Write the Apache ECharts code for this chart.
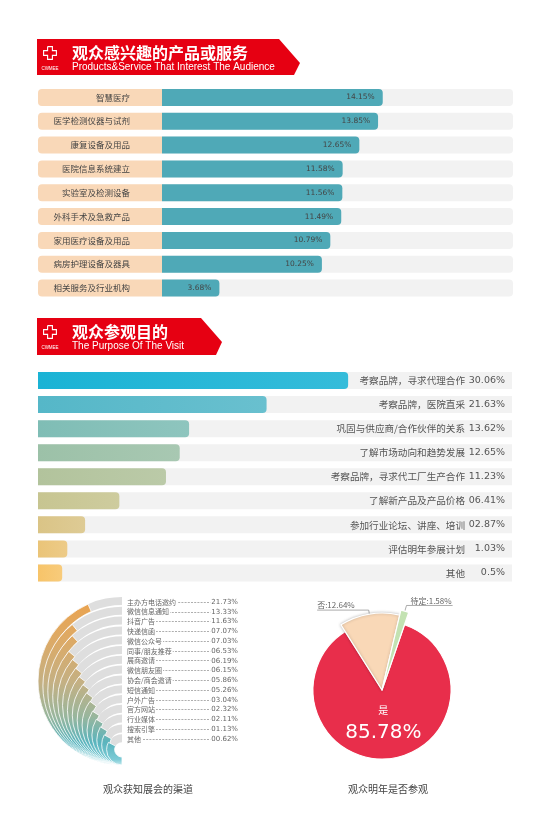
<!DOCTYPE html>
<html><head><meta charset="utf-8">
<script src="https://cdn.jsdelivr.net/npm/echarts@6/dist/echarts.min.js"></script>
<style>html,body{margin:0;padding:0;background:#fff}#c{width:551px;height:828px}</style>
</head><body><div id="c"></div>
<script>
const interestCats = ['智慧医疗','医学检测仪器与试剂','康复设备及用品','医院信息系统建立','实验室及检测设备','外科手术及急救产品','家用医疗设备及用品','病房护理设备及器具','相关服务及行业机构'];
const interestVals = [14.15,13.85,12.65,11.58,11.56,11.49,10.79,10.25,3.68];

const purposeCats = ['考察品牌，寻求代理合作','考察品牌，医院直采','巩固与供应商/合作伙伴的关系','了解市场动向和趋势发展','考察品牌，寻求代工厂生产合作','了解新产品及产品价格','参加行业论坛、讲座、培训','评估明年参展计划','其他'];
const purposeVals = [30.06,21.63,13.62,12.65,11.23,6.41,2.87,1.03,0.5];
const purposeLabels = ['30.06%','21.63%','13.62%','12.65%','11.23%','06.41%','02.87%','1.03%','0.5%'];

const channelCats = ['主办方电话邀约','微信信息通知','抖音广告','快递信函','微信公众号','同事/朋友推荐','展商邀请','微信朋友圈','协会/商会邀请','短信通知','户外广告','官方网站','行业媒体','搜索引擎','其他'];
const channelVals = [21.73,13.33,11.63,7.07,7.03,6.53,6.19,6.15,5.86,5.26,3.04,2.32,2.11,1.13,0.62];
const channelLabels = ['21.73%','13.33%','11.63%','07.07%','07.03%','06.53%','06.19%','06.15%','05.86%','05.26%','03.04%','02.32%','02.11%','01.13%','00.62%'];

const revisitCats = ['是','否','待定'];
const revisitVals = [85.78,12.64,1.58];

const CJK = "'Noto Sans CJK SC', 'Noto Sans', sans-serif";
const LAT = "'Liberation Sans', Arial, sans-serif";
const NUM = "'DejaVu Sans', sans-serif";
const chart = echarts.init(document.getElementById('c'), null, {renderer:'canvas'});

// ---- banners ----
function banner(y0, pts, zh, en){
  const cx = 50, cy = y0 + 14, a = 2.4, b = 6.4;
  const cross = [[cx-a,cy-b],[cx+a,cy-b],[cx+a,cy-a],[cx+b,cy-a],[cx+b,cy+a],[cx+a,cy+a],[cx+a,cy+b],[cx-a,cy+b],[cx-a,cy+a],[cx-b,cy+a],[cx-b,cy-a],[cx-a,cy-a],[cx-a,cy-b]];
  return [
    {type:'polygon', shape:{points:pts, smooth:0}, style:{fill:'#e60012'}},
    {type:'polyline', shape:{points:cross}, style:{stroke:'#fff', lineWidth:1.1, fill:null}},
    {type:'text', x:cx, y:y0+30, style:{text:'CWMEE', fill:'#fff', font:'4.5px '+LAT, textAlign:'center', textVerticalAlign:'middle'}},
    {type:'text', x:72, y:y0+14, style:{text:zh, fill:'#fff', font:'bold 16px '+CJK, textVerticalAlign:'middle'}},
    {type:'text', x:72, y:y0+28, style:{text:en, fill:'#fff', font:'10px '+LAT, textVerticalAlign:'middle'}}
  ];
}
const graphics = [].concat(
  banner(39, [[37,39],[279,39],[300,63],[294,75],[37,75]], '观众感兴趣的产品或服务', 'Products&Service That Interest The Audience'),
  banner(318, [[37,318],[201,318],[222,342],[216,355],[37,355]], '观众参观目的', 'The Purpose Of The Visit')
);

// ---- purpose bar colours ----
const purposeColors = ['#1ab3d5','#55b7c8','#7fbdb5','#9cc1a8','#b2c39c','#c7c591','#dac486','#eac478','#f7c469'];
function lighten(hex, t){
  const n = parseInt(hex.slice(1),16);
  const r=(n>>16)&255,g=(n>>8)&255,b=n&255;
  const f=c=>Math.round(c+(255-c)*t);
  return 'rgb('+f(r)+','+f(g)+','+f(b)+')';
}

// ---- channel rings (polar) ----
const polars=[], angleAxes=[], radiusAxes=[], ringSeries=[];
const ringGrad = new echarts.graphic.LinearGradient(0,597,0,768,[
  {offset:0,color:'#eca24c'},{offset:0.25,color:'#ddaa66'},{offset:0.5,color:'#c4b083'},
  {offset:0.7,color:'#98b69d'},{offset:0.85,color:'#5ab4bd'},{offset:0.95,color:'#7ccbd6'},{offset:1,color:'#e6f6f8'}], true);
channelCats.forEach((name,i)=>{
  const rOut = (765 - (597 + i*9.8))/2;
  polars.push({center:[122, 765 - rOut], radius:[rOut-8, rOut]});
  angleAxes.push({polarIndex:i, type:'value', min:-65, max:35, interval:100, startValue:-65, startAngle:270, endAngle:90, clockwise:true,
    axisLine:{show:false}, axisTick:{show:false}, axisLabel:{show:false}, splitLine:{show:false},
    splitArea:{show:true, areaStyle:{color:['#dedede','rgba(255,255,255,0)']}}});
  radiusAxes.push({polarIndex:i, type:'category', data:[name], axisLine:{show:false}, axisTick:{show:false}, axisLabel:{show:false}, splitLine:{show:false}});
  ringSeries.push({type:'bar', coordinateSystem:'polar', polarIndex:i, data:[channelVals[i]], barCategoryGap:'0%',
    itemStyle:{color:ringGrad, borderColor:'#fff', borderWidth:0.8}, silent:true, animation:false, z:2});
});

// ---- pie label layout: extend line under text ----
function pieLabelLayout(params){
  const pts = params.labelLinePoints;
  if (!pts || pts.length < 3) return {};
  const w = params.labelRect.width;
  const dir = pts[2][0] < pts[1][0] ? -1 : 1;
  const end = [pts[2][0] + dir*(w+2), pts[2][1]];
  return {x: dir<0 ? end[0] : pts[2][0]+1, y: pts[2][1]-1, align:'left', verticalAlign:'bottom',
    labelLinePoints:[pts[0], pts[1], end]};
}
const pieColors = ['#e82e4b','#f9d8b7','#c3e2b2'];
const pieRadii = [69, 77, 82];
const pieSeries = pieRadii.map((r,k)=>({
  type:'pie', center:[382,690], radius:[0,r], startAngle:71, clockwise:true, silent:true, animation:false,
  avoidLabelOverlap:false,
  data: revisitCats.map((c,j)=>({name:c, value:revisitVals[j],
    itemStyle: j===k ? {color:pieColors[j], borderColor:'#fff', borderWidth:1.2, shadowBlur: j===1?3:0, shadowColor:'rgba(0,0,0,0.25)'} : {color:'rgba(0,0,0,0)', borderWidth:0},
    label: j===k ? (j===0 ? {show:true, position:'inside', offset:[-3,-6], formatter:'{a|{b}}\n{v|{c}%}', rich:{a:{fontSize:10,color:'#fff',fontFamily:CJK,lineHeight:24}, v:{fontSize:20,color:'#fff',fontFamily:NUM,lineHeight:22}}}
              : {show:true, position:'outside', formatter:'{b}:{c}%', fontSize:8, color:'#666', fontFamily:CJK})
          : {show:false},
    labelLine: j===k && j>0 ? {show:true, length: j===1?4:6, length2: j===1?12:3, lineStyle:{color:'#888', width:0.7}} : {show:false}
  })),
  labelLayout: k>0 ? pieLabelLayout : undefined
}));

const option = {
  backgroundColor:'#fff',
  animation:false,
  graphic: graphics,
  title: [
    {text:'观众获知展会的渠道', left:143, top:779, textAlign:'center', textStyle:{fontSize:10, color:'#444', fontWeight:'normal', fontFamily:CJK}},
    {text:'观众明年是否参观', left:383, top:779, textAlign:'center', textStyle:{fontSize:10, color:'#444', fontWeight:'normal', fontFamily:CJK}}
  ],
  grid: [
    {left:162, right:38, top:85.5, height:214.5},
    {left:38, right:39, top:368.5, height:216.5},
    {left:127, right:313, top:602, height:137}
  ],
  xAxis: [
    {gridIndex:0, type:'value', min:0, max:22.5, show:false},
    {gridIndex:1, type:'value', min:-2, max:47, startValue:-2, show:false},
    {gridIndex:2, type:'value', min:0, max:1, show:false}
  ],
  yAxis: [
    {gridIndex:0, type:'category', data:interestCats, inverse:true, axisLine:{show:false}, axisTick:{show:false},
      axisLabel:{margin:0, width:92, height:17, lineHeight:17, padding:[0,32,0,0], backgroundColor:'#f9d8b8', borderRadius:[4,0,0,4],
        align:'right', fontSize:8.5, color:'#444', fontFamily:CJK, overflow:'none'}},
    {gridIndex:1, type:'category', data:purposeCats, inverse:true, position:'right', z:10, axisLine:{show:false}, axisTick:{show:false},
      axisLabel:{inside:true, margin:7, formatter:(v,i)=>'{n|'+v+'}{v|'+purposeLabels[i]+'}',
        rich:{n:{fontSize:9.6, color:'#555', fontFamily:CJK}, v:{fontSize:9.5, color:'#555', width:40, align:'right', fontFamily:NUM}}}},
    {gridIndex:2, type:'category', data:channelCats, inverse:true, boundaryGap:false, position:'left', z:10, axisLine:{show:false}, axisTick:{show:false},
      axisLabel:{inside:true, margin:0, interval:0, fontSize:7, color:'#666', fontFamily:CJK, backgroundColor:'#fff', padding:[0,1,0,0]},
      splitLine:{show:true, interval:0, lineStyle:{color:'#999', width:0.8, type:[2,1.2]}}},
    {gridIndex:2, type:'category', data:channelLabels, inverse:true, boundaryGap:false, position:'right', z:11, axisLine:{show:false}, axisTick:{show:false},
      axisLabel:{inside:true, margin:0, interval:0, fontSize:7, color:'#666', fontFamily:NUM, backgroundColor:'#fff', padding:[0,0,0,1]}}
  ],
  polar: polars,
  angleAxis: angleAxes,
  radiusAxis: radiusAxes,
  series: [
    {type:'bar', xAxisIndex:0, yAxisIndex:0, data:interestVals, barWidth:17, showBackground:true,
      backgroundStyle:{color:'#f2f2f2', borderRadius:[0,4,4,0]},
      itemStyle:{color:'#4fa9b7', borderRadius:[0,4,4,0]},
      label:{show:true, position:'insideRight', distance:8, formatter:'{c}%', fontSize:7.5, color:'#444', fontFamily:NUM}},
    {type:'bar', xAxisIndex:1, yAxisIndex:1, barWidth:17, showBackground:true, backgroundStyle:{color:'#f2f2f2'},
      data: purposeVals.map((v,i)=>({value:v, itemStyle:{color:new echarts.graphic.LinearGradient(0,0,1,0,[{offset:0,color:purposeColors[i]},{offset:1,color:lighten(purposeColors[i],0.12)}]), borderRadius:[0,4,4,0]}}))}
  ].concat(ringSeries, pieSeries)
};
chart.setOption(option);
</script></body></html>
